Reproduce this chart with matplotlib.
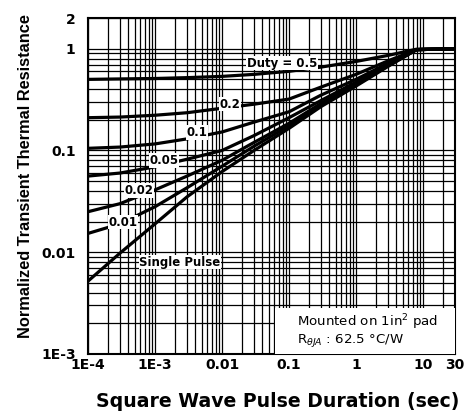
import matplotlib.pyplot as plt
from matplotlib.ticker import FixedLocator, LogLocator, NullFormatter

plt.rcParams['font.family'] = ['DejaVu Sans']

# pulse duration (sec)
t = [1e-4, 3e-4, 1e-3, 3e-3, 0.01, 0.03, 0.1, 0.3, 1, 3, 8, 30]

# normalized transient thermal resistance, one list per duty cycle
single = [0.0052, 0.0098, 0.019, 0.035, 0.062, 0.10, 0.165, 0.27, 0.43, 0.67, 0.98, 1.0]
d001 = [0.0153, 0.019, 0.028, 0.043, 0.070, 0.11, 0.175, 0.28, 0.44, 0.68, 0.98, 1.0]
d002 = [0.025, 0.030, 0.041, 0.056, 0.080, 0.12, 0.185, 0.29, 0.45, 0.69, 0.98, 1.0]
d005 = [0.056, 0.060, 0.069, 0.082, 0.10, 0.14, 0.21, 0.31, 0.47, 0.70, 0.98, 1.0]
d01 = [0.105, 0.108, 0.116, 0.13, 0.152, 0.19, 0.24, 0.35, 0.50, 0.72, 0.98, 1.0]
d02 = [0.21, 0.213, 0.222, 0.235, 0.26, 0.285, 0.32, 0.42, 0.56, 0.76, 0.98, 1.0]
d05 = [0.50, 0.505, 0.51, 0.52, 0.535, 0.56, 0.60, 0.66, 0.75, 0.86, 0.99, 1.0]

xticks = [1e-4, 1e-3, 0.01, 0.1, 1, 10, 30]
xlabels = ["1E-4", "1E-3", "0.01", "0.1", "1", "10", "30"]
yticks = [1e-3, 0.01, 0.1, 1, 2]
ylabels = ["1E-3", "0.01", "0.1", "1", "2"]

fig = plt.figure(figsize=(4.71, 4.12), dpi=100)
ax = fig.add_axes([0.187, 0.141, 0.779, 0.815])

for y in [single, d001, d002, d005, d01, d02, d05]:
    ax.plot(t, y, color="black", lw=2.3, solid_capstyle="butt", zorder=3)

ax.set_xscale("log")
ax.set_yscale("log")
ax.set_xlim(1e-4, 30)
ax.set_ylim(1e-3, 2)

ax.xaxis.set_major_locator(FixedLocator(xticks))
ax.set_xticklabels(xlabels)
ax.yaxis.set_major_locator(FixedLocator(yticks))
ax.set_yticklabels(ylabels)
ax.xaxis.set_minor_locator(LogLocator(base=10, subs=range(2, 10), numticks=20))
ax.yaxis.set_minor_locator(LogLocator(base=10, subs=range(2, 10), numticks=20))
ax.xaxis.set_minor_formatter(NullFormatter())
ax.yaxis.set_minor_formatter(NullFormatter())
ax.tick_params(which="both", length=0, labelsize=10)
ax.tick_params(axis="y", pad=9)
ax.tick_params(axis="x", pad=3)
for lab in ax.get_xticklabels() + ax.get_yticklabels():
    lab.set_fontweight("bold")

ax.grid(True, which="both", color="black", lw=0.9)
for s in ax.spines.values():
    s.set_linewidth(1.5)

box = dict(facecolor="white", edgecolor="none", pad=0.5)
lbl = dict(fontsize=8.5, fontweight="bold", ha="center", va="center", bbox=box, zorder=4)
ax.text(0.079, 0.72, "Duty = 0.5", **lbl)
ax.text(0.0131, 0.285, "0.2", **lbl)
ax.text(0.0042, 0.15, "0.1", **lbl)
ax.text(0.00136, 0.08, "0.05", **lbl)
ax.text(5.8e-4, 0.0405, "0.02", **lbl)
ax.text(3.3e-4, 0.0198, "0.01", **lbl)
ax.text(0.00236, 0.0080, "Single Pulse", **lbl)

ax.add_patch(plt.Rectangle((0.51, 0.0), 0.49, 0.137, transform=ax.transAxes,
                           facecolor="white", edgecolor="none", zorder=4))
ax.text(0.57, 0.095, "Mounted on 1in$^2$ pad", transform=ax.transAxes,
        fontsize=9.6, ha="left", va="center", zorder=5)
ax.text(0.57, 0.04, r"R$_{\theta JA}$ : 62.5 °C/W", transform=ax.transAxes,
        fontsize=9.6, ha="left", va="center", zorder=5)

ax.set_xlabel("Square Wave Pulse Duration (sec)", fontsize=13.6, fontweight="bold")
ax.xaxis.set_label_coords(0.518, -0.112)
ax.set_ylabel("Normalized Transient Thermal Resistance", fontsize=11.8,
              fontweight="bold", family=["Liberation Sans", "DejaVu Sans"])
ax.yaxis.set_label_coords(-0.15, 0.53)

fig.savefig("out.png", dpi=100)
